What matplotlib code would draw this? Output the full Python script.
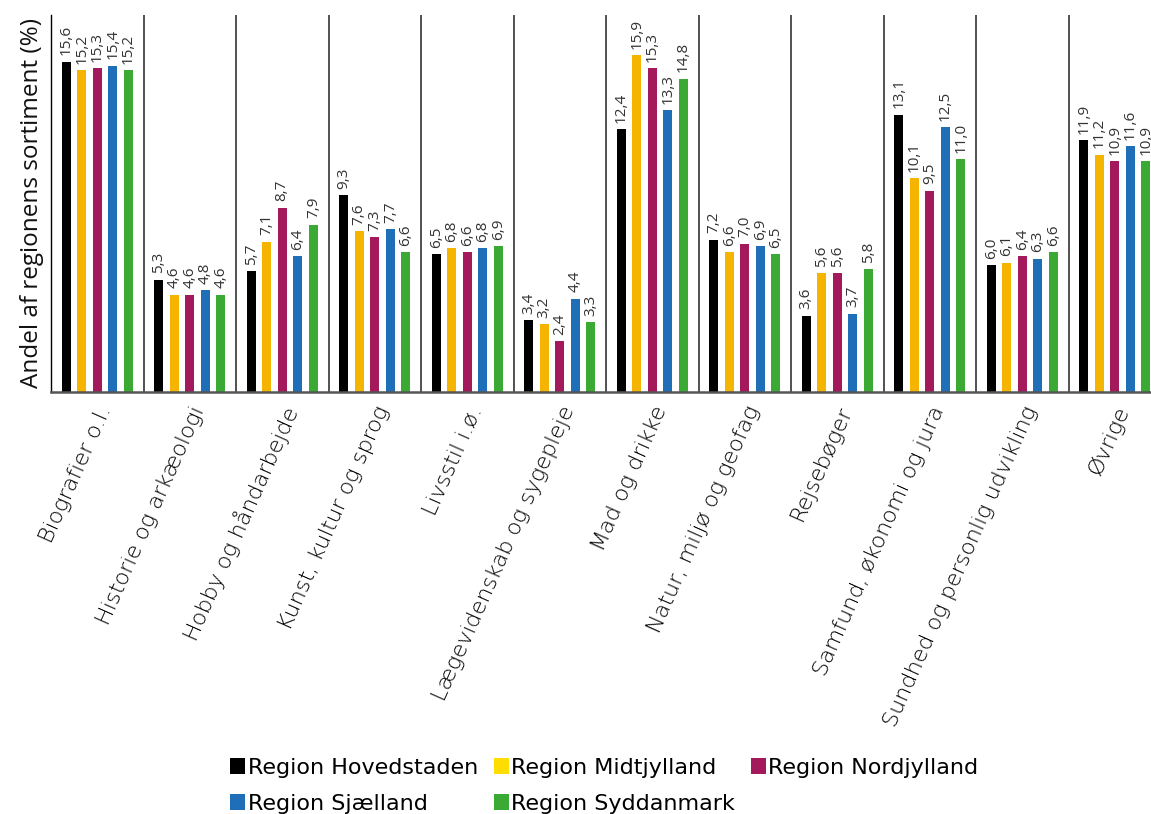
import matplotlib
matplotlib.use("Agg")
import matplotlib.pyplot as plt
from matplotlib.patches import Patch
import numpy as np

plt.rcParams.update({
    "font.family": ["Open Sans", "DejaVu Sans"],
    "axes.linewidth": 1.0,
})

categories = ["Biografier o.l.", "Historie og arkæologi", "Hobby og håndarbejde",
              "Kunst, kultur og sprog", "Livsstil i.ø.", "Lægevidenskab og sygepleje",
              "Mad og drikke", "Natur, miljø og geofag", "Rejsebøger",
              "Samfund, økonomi og jura", "Sundhed og personlig udvikling", "Øvrige"]
regions = ["Region Hovedstaden", "Region Midtjylland", "Region Nordjylland",
           "Region Sjælland", "Region Syddanmark"]
hovedstaden = [15.6, 5.3, 5.7, 9.3, 6.5, 3.4, 12.4, 7.2, 3.6, 13.1, 6.0, 11.9]
midtjylland = [15.2, 4.6, 7.1, 7.6, 6.8, 3.2, 15.9, 6.6, 5.6, 10.1, 6.1, 11.2]
nordjylland = [15.3, 4.6, 8.7, 7.3, 6.6, 2.4, 15.3, 7.0, 5.6, 9.5, 6.4, 10.9]
sjaelland = [15.4, 4.8, 6.4, 7.7, 6.8, 4.4, 13.3, 6.9, 3.7, 12.5, 6.3, 11.6]
syddanmark = [15.2, 4.6, 7.9, 6.6, 6.9, 3.3, 14.8, 6.5, 5.8, 11.0, 6.6, 10.9]

series = [hovedstaden, midtjylland, nordjylland, sjaelland, syddanmark]
colors = ["#000000", "#F5B400", "#A3195B", "#1F6FB8", "#3AAA35"]
legend_colors = ["#000000", "#FFDD00", "#A3195B", "#1F6FB8", "#3AAA35"]

W, H = 1151, 814
fig = plt.figure(figsize=(W / 100, H / 100), dpi=100)
ax = fig.add_axes([51 / W, 1 - 392 / H, 1110 / W, 377 / H])

x = np.arange(len(categories))
pitch = 0.168
bw = 0.097
for i, (vals, c) in enumerate(zip(series, colors)):
    pos = x + (i - 2) * pitch
    ax.bar(pos, vals, bw, color=c, zorder=2)
    for p, v in zip(pos, vals):
        ax.text(p, v + 0.3, f"{v:.1f}".replace(".", ","), rotation=90,
                ha="center", va="bottom", fontsize=11, color="#333333")

for b in x[:-1] + 0.5:
    ax.axvline(b, color="#333333", linewidth=1.2, zorder=1)

ax.set_xlim(-0.5, 11.5)
ax.set_ylim(0, 17.8)
ax.set_yticks([])
ax.set_xticks(x)
ax.set_xticklabels(categories, rotation=66, ha="right", rotation_mode="anchor",
                   fontsize=16, color="#000000", family="DejaVu Sans",
                   fontweight="light")
ax.tick_params(axis="x", length=0, pad=8)
ax.spines["top"].set_visible(False)
ax.spines["right"].set_visible(False)
ax.spines["bottom"].set_color("#555555")
ax.spines["bottom"].set_linewidth(1.8)
ax.set_ylabel("Andel af regionens sortiment (%)", fontsize=17.5, labelpad=5,
              color="#111111")

handles = [Patch(facecolor=c, label=r) for c, r in zip(legend_colors, regions)]
order = [0, 3, 1, 4, 2]
fig.legend([handles[k] for k in order], [regions[k] for k in order],
           loc="upper center", bbox_to_anchor=(0.525, 1 - 738 / H), ncol=3,
           frameon=False, handlelength=0.7, handleheight=0.7,
           handletextpad=0.1, columnspacing=0.7, labelspacing=0.7,
           prop={"family": "DejaVu Sans", "size": 16})

fig.savefig("out.png", dpi=100)
